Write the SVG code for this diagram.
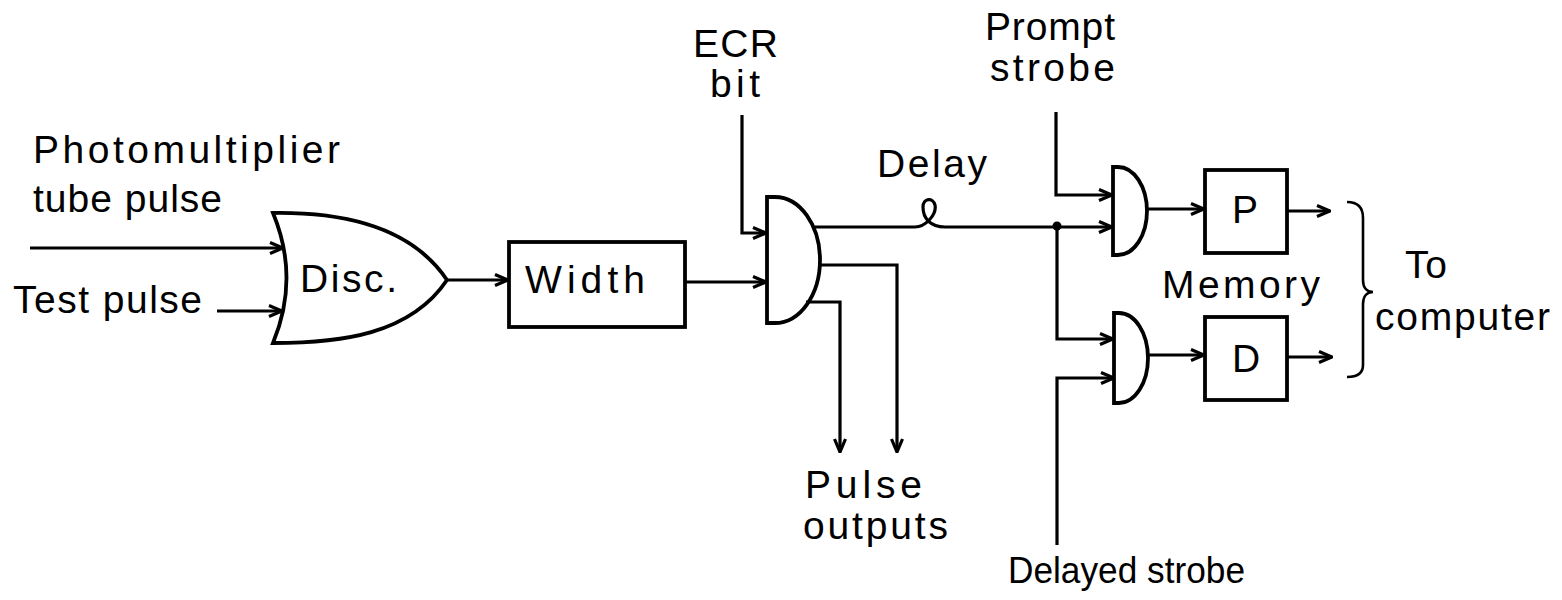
<svg xmlns="http://www.w3.org/2000/svg" width="1562" height="600" viewBox="0 0 1562 600">
<defs>
<style>
.t{font-family:"Liberation Sans",Arial,sans-serif;font-size:39px;fill:#000}
.w{fill:none;stroke:#000;stroke-width:3.2;stroke-linejoin:miter}
.s{fill:none;stroke:#000;stroke-width:3.8}
</style>
<marker id="ar" viewBox="0 0 16 14" refX="15" refY="7" markerWidth="16" markerHeight="14" markerUnits="userSpaceOnUse" orient="auto">
<path d="M2,1.5 L15,7 L2,12.5" fill="none" stroke="#000" stroke-width="3.2"/>
</marker>
</defs>
<rect width="1562" height="600" fill="#fff"/>

<g id="labels">
<text class="t"><tspan x="33" y="163" textLength="307" lengthAdjust="spacing">Photomultiplier</tspan><tspan x="33" y="212" textLength="189" lengthAdjust="spacing">tube pulse</tspan></text>
<text class="t" x="13" y="313" textLength="189" lengthAdjust="spacing">Test pulse</text>
<text class="t"><tspan x="693" y="57" textLength="85" lengthAdjust="spacing">ECR</tspan><tspan x="710" y="97" textLength="50" lengthAdjust="spacing">bit</tspan></text>
<text class="t" x="877" y="177" textLength="110" lengthAdjust="spacing">Delay</text>
<text class="t"><tspan x="985" y="40" textLength="130" lengthAdjust="spacing">Prompt</tspan><tspan x="990" y="81" textLength="125" lengthAdjust="spacing">strobe</tspan></text>
<text class="t" x="1162" y="298" textLength="158" lengthAdjust="spacing">Memory</text>
<text class="t"><tspan x="1405" y="278" textLength="42" lengthAdjust="spacing">To</tspan><tspan x="1375" y="330" textLength="175" lengthAdjust="spacing">computer</tspan></text>
<text class="t"><tspan x="805" y="498" textLength="117" lengthAdjust="spacing">Pulse</tspan><tspan x="803" y="539" textLength="145" lengthAdjust="spacing">outputs</tspan></text>
<text class="t" x="1008" y="583" style="font-size:36px" textLength="237" lengthAdjust="spacingAndGlyphs">Delayed strobe</text>
</g>

<g id="disc">
<path class="s" d="M273,213 C340,212 410,225 447,280 C410,335 340,343 273,343 Q300,278 273,213 Z"/>
<text class="t" x="300" y="292" textLength="97" lengthAdjust="spacing">Disc.</text>
</g>

<g id="width">
<rect class="s" x="509" y="242" width="176" height="85"/>
<text class="t" x="525" y="293" textLength="120" lengthAdjust="spacing">Width</text>
</g>

<g id="and-main">
<path class="s" d="M767,197 H775 A45,63 0 0 1 775,323 H767 Z"/>
</g>

<g id="and-prompt">
<path class="s" d="M1113,167 H1118 A29,44 0 0 1 1118,255 H1113 Z"/>
</g>

<g id="and-delayed">
<path class="s" d="M1114,313 H1119 A29,45 0 0 1 1119,403 H1114 Z"/>
</g>

<g id="memory-p">
<rect class="s" x="1205" y="170" width="82" height="83"/>
<text class="t" x="1245" y="223" text-anchor="middle">P</text>
</g>

<g id="memory-d">
<rect class="s" x="1205" y="317" width="82" height="83"/>
<text class="t" x="1246" y="372" text-anchor="middle">D</text>
</g>

<g id="brace">
<path fill="none" stroke="#000" stroke-width="2.6" d="M1347,202 C1358,202 1363,208 1363,218 V280 C1363,288 1367,292 1373,292 C1367,292 1363,296 1363,304 V365 C1363,373 1358,377 1347,377"/>
</g>

<g id="connectors">
<path class="w" d="M30,248 H283" marker-end="url(#ar)"/>
<path class="w" d="M217,311 H282" marker-end="url(#ar)"/>
<path class="w" d="M447,280 H508" marker-end="url(#ar)"/>
<path class="w" d="M685,282 H766" marker-end="url(#ar)"/>
<path class="w" d="M742,115 V233 H766" marker-end="url(#ar)"/>
<path class="w" d="M813,227 H915 C925,227 937,215 935,205 C933,197 923,198 923,207 C923,218 930,227 945,227 H1112" marker-end="url(#ar)"/>
<path class="w" d="M1057,226 V339 H1113" marker-end="url(#ar)"/>
<circle cx="1057" cy="226" r="4.5" fill="#000"/>
<path class="w" d="M1056,112 V195 H1112" marker-end="url(#ar)"/>
<path class="w" d="M1057,545 V378 H1114" marker-end="url(#ar)"/>
<path class="w" d="M1147,209 H1204" marker-end="url(#ar)"/>
<path class="w" d="M1287,211 H1330" marker-end="url(#ar)"/>
<path class="w" d="M1148,355 H1204" marker-end="url(#ar)"/>
<path class="w" d="M1287,357 H1332" marker-end="url(#ar)"/>
<path class="w" d="M820,265 H897 V452" marker-end="url(#ar)"/>
<path class="w" d="M806,302 H840 V452" marker-end="url(#ar)"/>
</g>
</svg>
